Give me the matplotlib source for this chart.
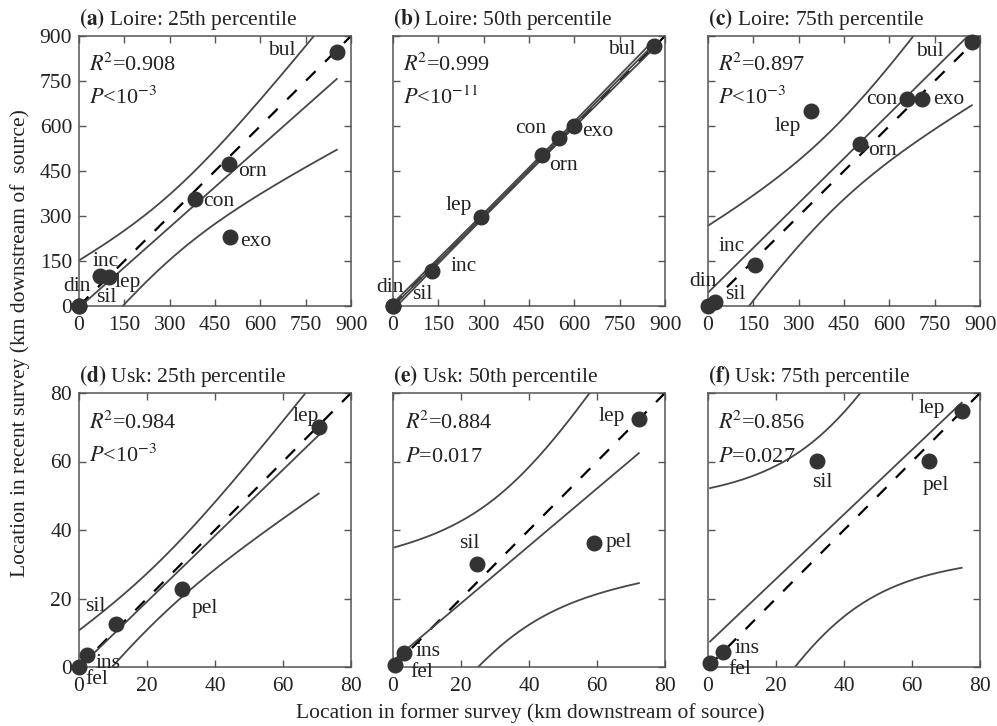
#!/usr/bin/env python3
"""
Six-panel figure: location of species range percentiles, former vs recent survey,
for the Loire and the Usk, with OLS fit, 95% confidence band and 1:1 line.
"""

import numpy as np
import matplotlib
matplotlib.use("Agg")
import matplotlib.pyplot as plt

plt.rcParams['font.family'] = 'serif'
plt.rcParams['font.serif'] = ['Liberation Serif', 'DejaVu Serif']
plt.rcParams['mathtext.fontset'] = 'stix'

# Loire species (same order in every Loire panel)
loire_species = ['din', 'sil', 'inc', 'lep', 'con', 'orn', 'exo', 'bul']
loire25_former = [0, 0, 70, 100, 384, 496, 499, 853]
loire25_recent = [0, 0, 100, 98, 356, 472, 231, 846]
loire50_former = [0, 0, 129, 290, 549, 493, 599, 862]
loire50_recent = [0, 0, 118, 296, 559, 503, 601, 868]
loire75_former = [0, 23, 154, 340, 660, 504, 707, 873]
loire75_recent = [0, 14, 137, 650, 689, 539, 689, 881]

# Usk species
usk_species = ['fel', 'ins', 'sil', 'pel', 'lep']
usk25_former = [0, 2.3, 10.8, 30.3, 70.5]
usk25_recent = [0, 3.5, 12.6, 22.7, 70.0]
usk50_former = [0.5, 3.2, 24.6, 59.2, 72.3]
usk50_recent = [0.5, 4.0, 30.0, 36.3, 72.3]
usk75_former = [0.6, 4.3, 32.0, 65.1, 74.6]
usk75_recent = [1.3, 4.5, 60.1, 60.1, 74.8]

panel_titles = ['Loire: 25th percentile', 'Loire: 50th percentile', 'Loire: 75th percentile',
                'Usk: 25th percentile', 'Usk: 50th percentile', 'Usk: 75th percentile']
r2_labels = ['0.908', '0.999', '0.897', '0.984', '0.884', '0.856']
p_labels = [r'$P$<10$^{-3}$', r'$P$<10$^{-11}$', r'$P$<10$^{-3}$',
            r'$P$<10$^{-3}$', r'$P$=0.017', r'$P$=0.027']

loire_ticks = [0, 150, 300, 450, 600, 750, 900]
usk_ticks = [0, 20, 40, 60, 80]

# label offsets in pixels (dx, dy up) from each dot
label_offsets = [
    {'din': (-2, 19), 'sil': (27, 8), 'inc': (5, 14), 'lep': (19, -6),
     'con': (24, -2), 'orn': (24, -7), 'exo': (26, -5), 'bul': (-55, 2)},
    {'din': (-3, 18), 'sil': (29, 11), 'inc': (32, 4), 'lep': (-22, 12),
     'con': (-28, 10), 'orn': (21, -10), 'exo': (24, -6), 'bul': (-32, -4)},
    {'din': (-5, 24), 'sil': (20, 7), 'inc': (-23, 18), 'lep': (-23, -16),
     'con': (-26, 0), 'orn': (22, -6), 'exo': (27, 0), 'bul': (-42, -10)},
    {'fel': (18, -12), 'ins': (21, -8), 'sil': (-20, 17), 'pel': (23, -19), 'lep': (-13, 11)},
    {'fel': (27, -7), 'ins': (24, 2), 'sil': (-7, 21), 'pel': (25, 0), 'lep': (-27, 3)},
    {'fel': (30, -7), 'ins': (24, 3), 'sil': (6, -21), 'pel': (6, -24), 'lep': (-30, 2)},
]

LINE_COL = '#474747'
DOT_COL = '#333333'
TEXT_COL = '#222222'
FS = 15.5


def fit_band(x, y, n_grid=200):
    """OLS fit with a 95% Working-Hotelling confidence band over the data range"""
    x = np.asarray(x, float)
    y = np.asarray(y, float)
    n = len(x)
    b, a = np.polyfit(x, y, 1)
    s = np.sqrt(np.sum((y - (a + b * x)) ** 2) / (n - 2))
    sxx = np.sum((x - x.mean()) ** 2)
    df = n - 2
    f95 = df / 2 * (0.05 ** (-2 / df) - 1)  # F(0.95; 2, df)
    w = np.sqrt(2 * f95)
    xs = np.linspace(x.min(), x.max(), n_grid)
    fit = a + b * xs
    hw = w * s * np.sqrt(1 / n + (xs - x.mean()) ** 2 / sxx)
    return xs, fit, fit - hw, fit + hw


fig = plt.figure(figsize=(9.97, 7.26), dpi=100)
W, H = 997, 726
lefts = [79, 393, 708]
rows = [(36, 270), (393, 274)]  # (top px, height px)

panels = [
    (loire25_former, loire25_recent, loire_species, loire_ticks),
    (loire50_former, loire50_recent, loire_species, loire_ticks),
    (loire75_former, loire75_recent, loire_species, loire_ticks),
    (usk25_former, usk25_recent, usk_species, usk_ticks),
    (usk50_former, usk50_recent, usk_species, usk_ticks),
    (usk75_former, usk75_recent, usk_species, usk_ticks),
]

for i, (xf, yr, names, ticks) in enumerate(panels):
    row, col = divmod(i, 3)
    top, h = rows[row]
    ax = fig.add_axes([lefts[col] / W, 1 - (top + h) / H, 272 / W, h / H])
    lim = ticks[-1]

    xs, fit, lo, hi = fit_band(xf, yr)
    ax.plot([0, lim], [0, lim], color='black', lw=1.6, dashes=(6, 6), zorder=2)
    ax.plot(xs, fit, color=LINE_COL, lw=1.3, zorder=2)
    ax.plot(xs, lo, color=LINE_COL, lw=1.3, zorder=2)
    ax.plot(xs, hi, color=LINE_COL, lw=1.3, zorder=2)
    ax.plot(xf, yr, 'o', color=DOT_COL, ms=10.5, clip_on=False, zorder=4)

    for name, px, py in zip(names, xf, yr):
        dx, dy = label_offsets[i][name]
        ax.annotate(name, (px, py), xytext=(dx, dy), textcoords='offset pixels',
                    ha='center', va='center', fontsize=FS, color=TEXT_COL,
                    annotation_clip=False, zorder=5)

    ax.set_xlim(0, lim)
    ax.set_ylim(0, lim)
    ax.set_xticks(ticks)
    ax.set_yticks(ticks)
    if col != 0:
        ax.set_yticklabels([])
    ax.tick_params(direction='in', top=True, right=True, length=5, width=1,
                   color='#555555', labelsize=FS, labelcolor=TEXT_COL, pad=5)
    ax.tick_params(axis='x', pad=7)
    for sp in ax.spines.values():
        sp.set_color('#555555')
        sp.set_linewidth(1.1)

    tx = 0.045 if i == 4 else 0.035
    ax.text(tx, 0.87, r'$R^{\!2}$=' + r2_labels[i], transform=ax.transAxes,
            fontsize=FS + 0.5, color=TEXT_COL, va='baseline', ha='left')
    ax.text(tx, 0.75, p_labels[i], transform=ax.transAxes,
            fontsize=FS + 0.5, color=TEXT_COL, va='baseline', ha='left')

    letter = 'abcdef'[i]
    ax.text(0.0, 1 + 11 / h, r'$\mathbf{(' + letter + r')}$ ' + panel_titles[i],
            transform=ax.transAxes, fontsize=FS, color=TEXT_COL,
            ha='left', va='baseline')

fig.text(20 / W, 1 - 343 / H, 'Location in recent survey (km downstream of  source)',
         rotation=90, ha='center', va='center', fontsize=FS, color=TEXT_COL)
fig.text(530 / W, 1 - 713 / H, 'Location in former survey (km downstream of source)',
         ha='center', va='center', fontsize=FS, color=TEXT_COL)

fig.savefig('out.png', dpi=100)
